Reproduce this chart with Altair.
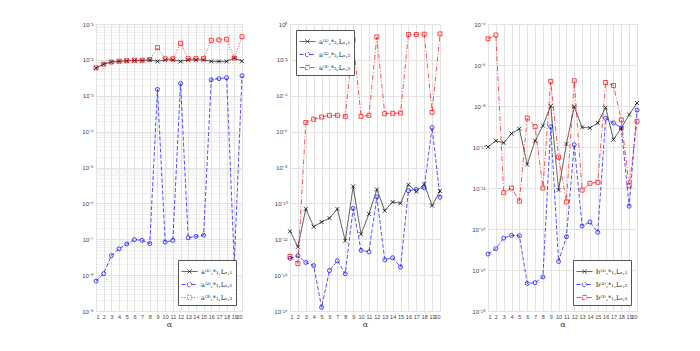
import altair as alt
import pandas as pd

X = list(range(1, 21))

# Panel 1
p1_s1 = [5.9e-3, 7.6e-3, 8.7e-3, 9.1e-3, 9.4e-3, 9.6e-3, 9.6e-3, 1.0e-2, 9.1e-3, 1.0e-2,
         1.0e-2, 9.1e-3, 1.0e-2, 1.0e-2, 1.0e-2, 9.1e-3, 9.1e-3, 9.1e-3, 1.12e-2, 9.2e-3]
p1_s2 = [6.8e-9, 1.1e-8, 3.5e-8, 5.4e-8, 7.4e-8, 9.8e-8, 9.3e-8, 7.6e-8, 1.5e-3, 8.3e-8,
         9.3e-8, 2.2e-3, 1.1e-7, 1.2e-7, 1.3e-7, 2.8e-3, 3.0e-3, 3.2e-3, 2.1e-8, 3.6e-3]
p1_s3 = [6.0e-3, 7.6e-3, 8.7e-3, 9.2e-3, 9.5e-3, 9.8e-3, 9.8e-3, 1.02e-2, 2.2e-2, 1.07e-2,
         1.07e-2, 2.9e-2, 1.07e-2, 1.1e-2, 1.1e-2, 3.5e-2, 3.6e-2, 3.76e-2, 1.12e-2, 4.4e-2]

# Panel 2
p2_s1 = [2.8e-12, 3.8e-13, 4.9e-11, 5.0e-12, 9.1e-12, 1.5e-11, 4.9e-11, 8.3e-13, 8.9e-10, 1.9e-12,
         2.6e-11, 6.0e-10, 3.9e-11, 1.2e-10, 1.0e-10, 1.1e-9, 4.5e-10, 1.2e-9, 7.4e-11, 4.9e-10]
p2_s2 = [8.7e-14, 1.2e-13, 5.1e-14, 3.4e-14, 1.6e-16, 1.8e-14, 6.3e-14, 1.2e-14, 5.2e-11, 2.4e-13,
         2.0e-13, 2.3e-10, 7.2e-14, 9.3e-14, 2.8e-14, 5.1e-10, 6.0e-10, 7.4e-10, 1.7e-6, 2.2e-10]
p2_s3 = [1.1e-13, 4.4e-14, 3.2e-6, 4.9e-6, 6.5e-6, 8.1e-6, 8.1e-6, 7.1e-6, 0.13, 7.1e-6,
         8.1e-6, 0.19, 1.0e-5, 1.05e-5, 1.1e-5, 0.26, 0.26, 0.27, 1.2e-5, 0.28]

# Panel 3
p3_s1 = [1.0e-10, 2.0e-10, 1.6e-10, 4.5e-10, 7.8e-10, 1.4e-11, 2.0e-10, 1.1e-9, 1.0e-8, 7.9e-13,
         1.4e-10, 9.3e-9, 9.1e-10, 8.5e-10, 1.5e-9, 8.3e-9, 2.3e-10, 8.5e-10, 3.8e-9, 1.4e-8]
p3_s2 = [6.0e-16, 1.1e-15, 3.6e-15, 4.9e-15, 4.7e-15, 2.2e-17, 2.4e-17, 4.6e-17, 9.8e-10, 2.6e-16,
         4.2e-15, 1.3e-10, 1.4e-14, 2.2e-14, 6.9e-15, 2.5e-9, 1.5e-9, 8.5e-10, 1.3e-13, 6.3e-9]
p3_s3 = [1.9e-5, 2.9e-5, 5.9e-13, 1.0e-12, 2.3e-13, 2.6e-9, 9.8e-10, 1.0e-12, 1.6e-7, 3.2e-11,
         2.1e-13, 1.7e-7, 7.9e-13, 1.7e-12, 1.9e-12, 1.4e-7, 1.0e-7, 2.1e-9, 1.3e-12, 1.8e-9]

p1_labels = ["a⁽¹⁾,*₁,Lᵥ,₁", "a⁽²⁾,*₁,Lᵥ,₂", "a⁽³⁾,*₁,Lᵥ,₃"]
p2_labels = ["a⁽¹⁾,*₂,Lᵥ,₁", "a⁽²⁾,*₂,Lᵥ,₂", "a⁽³⁾,*₂,Lᵥ,₃"]
p3_labels = ["b⁽¹⁾,*₁,Lᵥ,₁", "b⁽²⁾,*₁,Lᵥ,₂", "b⁽³⁾,*₁,Lᵥ,₃"]

COLORS = ["#000000", "#0000ff", "#ff0000"]
SHAPES = ["M-1,-1L1,1M-1,1L1,-1", "circle", "square"]
# legend glyphs: line sample with the marker in the middle (unit = half symbol width)
LEGEND_GLYPHS = [
    "M-1,0L1,0M-0.26,-0.26L0.26,0.26M-0.26,0.26L0.26,-0.26",
    "M-1,0L-0.28,0M0.28,0L1,0"
    "M-0.28,0A0.28,0.28,0,1,0,0.28,0A0.28,0.28,0,1,0,-0.28,0",
    "M-1,0L-0.26,0M0.26,0L1,0"
    "M-0.26,-0.26L0.26,-0.26L0.26,0.26L-0.26,0.26Z",
]

SUP = {"-": "⁻", "0": "⁰", "1": "¹", "2": "²", "3": "³", "4": "⁴",
       "5": "⁵", "6": "⁶", "7": "⁷", "8": "⁸", "9": "⁹"}


def sup(n):
    return "".join(SUP[c] for c in str(n))


def label_expr(exps):
    e = "round(log(datum.value)/LN10)"
    isint = "abs(log(datum.value)/LN10 - round(log(datum.value)/LN10)) < 0.001"
    expr = "''"
    for k in exps:
        expr = f"({e} == {k} ? '10{sup(k)}' : {expr})"
    return f"{isint} ? {expr} : ''"


FONT = "Liberation Sans"


def panel(s1, s2, s3, labels, lo, hi, step, minor, legend_orient, w, red_dash):
    rows = []
    for lab, vals in zip(labels, [s1, s2, s3]):
        for xv, v in zip(X, vals):
            rows.append({"x": xv, "v": v, "s": lab})
    df = pd.DataFrame(rows)
    exps = list(range(lo, hi + 1, step))
    if minor:
        yvals = []
        for k in range(lo, hi):
            for m in range(1, 10):
                yvals.append(float(f"{m}e{k}"))
        yvals.append(float(f"1e{hi}"))
        grid_op = {"condition": {"test": "abs(log(datum.value)/LN10 - round(log(datum.value)/LN10)) < 0.001",
                                 "value": 1.0}, "value": 0.45}
    else:
        yvals = [float(f"1e{k}") for k in exps]
        grid_op = 1.0
    xenc = alt.X("x:Q", scale=alt.Scale(domain=[1, 20], nice=False, zero=False),
                 axis=alt.Axis(values=X, title="α", labelFontSize=5.5, titleFontSize=8,
                               titleFontWeight="normal", titleFont="DejaVu Serif",
                               labelFont=FONT, labelColor="#444", titleColor="#333",
                               grid=True, gridColor="#e2e2e2", ticks=False, domain=False,
                               labelPadding=3, titlePadding=1, labelOverlap=False))
    yenc = alt.Y("v:Q", scale=alt.Scale(type="log", domain=[float(f"1e{lo}"), float(f"1e{hi}")], nice=False),
                 axis=alt.Axis(values=yvals, labelExpr=label_expr(exps), title=None,
                               labelFontSize=6, labelFont=FONT, labelColor="#444",
                               grid=True, gridColor="#e2e2e2", gridOpacity=grid_op,
                               ticks=False, domain=False, labelPadding=3, labelOverlap=False))
    leg = alt.Legend(title=None, orient=legend_orient, offset=6, fillColor="white",
                     strokeColor="#555", padding=3, labelFont="DejaVu Serif", labelFontSize=6.5,
                     labelColor="#222", symbolSize=256, symbolStrokeWidth=0.8,
                     symbolStrokeColor="black", symbolFillColor="transparent",
                     rowPadding=0, labelLimit=200, symbolOpacity=0.9, labelOffset=3)
    cscale = alt.Scale(domain=labels, range=COLORS)
    dscale = alt.Scale(domain=labels, range=[[1, 0], [4, 2], red_dash])
    gscale = alt.Scale(domain=labels, range=LEGEND_GLYPHS)
    base = alt.Chart(df)
    lines = base.mark_line(strokeWidth=0.75, opacity=0.9).encode(
        x=xenc, y=yenc,
        color=alt.Color("s:N", scale=cscale, legend=leg, sort=labels),
        strokeDash=alt.StrokeDash("s:N", scale=dscale, legend=None, sort=labels),
        order=alt.Order("x:Q"),
    )
    # layer with no rows, only to carry the legend glyphs
    ghost = base.transform_filter("datum.x > 100").mark_point(filled=False, strokeWidth=0.8).encode(
        x=xenc, y=yenc,
        color=alt.Color("s:N", scale=cscale, legend=leg, sort=labels),
        shape=alt.Shape("s:N", scale=gscale, legend=leg, sort=labels),
    )
    layers = [lines, ghost]
    for lab, col, shp in zip(labels, COLORS, SHAPES):
        layers.append(
            base.transform_filter(alt.datum.s == lab)
            .mark_point(filled=False, size=16, strokeWidth=0.8, opacity=0.9, shape=shp, color=col)
            .encode(x=xenc, y=yenc)
        )
    return alt.layer(*layers).properties(width=w, height=287)


c1 = panel(p1_s1, p1_s2, p1_s3, p1_labels, -9, -1, 1, True, "bottom-right", 146, [1.2, 1.5])
c2 = panel(p2_s1, p2_s2, p2_s3, p2_labels, -16, 0, 2, False, "top-left", 150, [5, 2, 1, 2])
c3 = panel(p3_s1, p3_s2, p3_s3, p3_labels, -18, -4, 2, False, "bottom-right", 149, [5, 2, 1, 2])

chart = alt.hconcat(c1, c2, c3, spacing=48, bounds="flush").resolve_scale(
    color="independent", strokeDash="independent", shape="independent", y="independent", x="independent"
).resolve_legend(color="independent", shape="independent").properties(
    padding={"left": 73, "top": 12, "right": 5, "bottom": 5}
).configure_view(stroke="#777", strokeWidth=0.6).configure(background="white")

chart.save("out.html", embed_options={"renderer": "svg", "actions": False})
